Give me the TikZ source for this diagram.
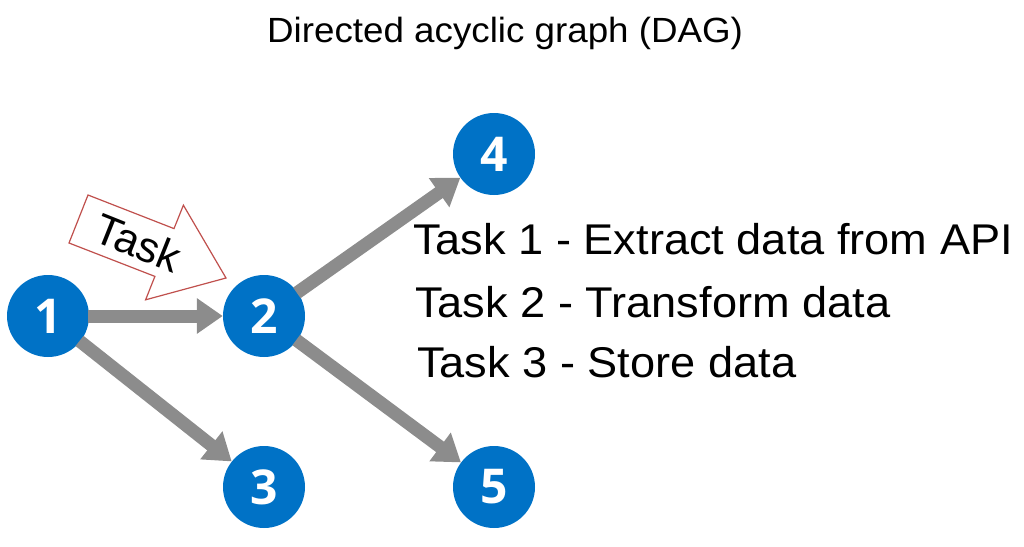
\documentclass[tikz,border=0pt]{standalone}
\usepackage{fontspec}
\setmainfont{Liberation Sans}
\newfontfamily\numfont{Open Sans}
\usetikzlibrary{arrows.meta}
\definecolor{nodeblue}{RGB}{0,114,198}
\definecolor{edgegray}{RGB}{140,140,140}
\definecolor{taskred}{RGB}{192,80,77}
\tikzset{
  dagnode/.style={circle, fill=nodeblue, minimum size=82pt, inner sep=0pt,
    text=white, font=\numfont\bfseries\fontsize{48}{48}\selectfont},
  dagedge/.style={draw=edgegray, line width=13pt,
    -{Triangle[width=34pt,length=26pt]}, shorten <=-1pt},
  tasktext/.style={anchor=base west, inner sep=0pt, xscale=1.05,
    font=\fontsize{43}{43}\selectfont},
  titletext/.style={anchor=base west, inner sep=0pt, xscale=1.05,
    font=\fontsize{35}{35}\selectfont},
  taskshape/.style={draw=taskred, fill=white, line width=1.2pt, line join=miter}
}
\begin{document}
\begin{tikzpicture}[x=1pt,y=-1pt]
\useasboundingbox (0,0) rectangle (1024,546);
% title
\node[titletext] (title) at (267,42) {Directed acyclic graph (DAG)};
% nodes
\node[dagnode] (n1) at (48,316) {1};
\node[dagnode] (n2) at (264,316) {2};
\node[dagnode] (n3) at (264,487) {3};
\node[dagnode] (n4) at (494,154) {4};
\node[dagnode] (n5) at (494,487) {5};
% edges
\draw[dagedge] (n1) -- (n2);
\draw[dagedge] (n1) -- (n3);
\draw[dagedge] (n2) -- (n4);
\draw[dagedge] (n2) -- (n5);
% task arrow
\draw[taskshape] (88,195) -- (174,228.6) -- (183.4,205.2) -- (226,278)
  -- (145.6,299.8) -- (154.9,276.4) -- (69,243) -- cycle;
\node[rotate=-21.8, inner sep=0pt, font=\fontsize{43}{43}\selectfont] (tasklabel) at (138,243) {Task};
% task list
\node[tasktext] (t1) at (413,254) {Task 1 - Extract data from API};
\node[tasktext] (t2) at (415,317) {Task 2 - Transform data};
\node[tasktext] (t3) at (417,377) {Task 3 - Store data};
\end{tikzpicture}
\end{document}
